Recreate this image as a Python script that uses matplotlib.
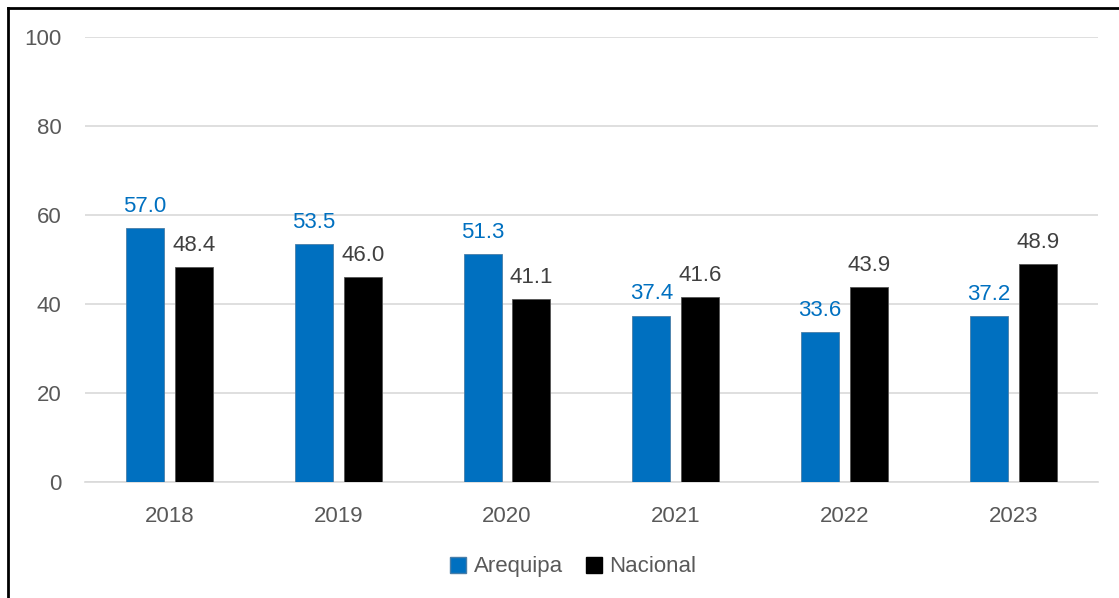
import matplotlib.pyplot as plt
import numpy as np
from matplotlib.lines import Line2D

years = ['2018', '2019', '2020', '2021', '2022', '2023']
arequipa = [57.0, 53.5, 51.3, 37.4, 33.6, 37.2]
nacional = [48.4, 46.0, 41.1, 41.6, 43.9, 48.9]

blue = '#0070C0'
plt.rcParams['font.family'] = ['Liberation Sans', 'DejaVu Sans']

fig = plt.figure(figsize=(11.19, 5.98), dpi=100)
ax = fig.add_axes([0.076, 0.194, 0.905, 0.744])

x = np.arange(len(years))
w = 0.225
b1 = ax.bar(x - 0.145, arequipa, w, color=blue, edgecolor='#4A7EA8', linewidth=0.6, zorder=3)
b2 = ax.bar(x + 0.145, nacional, w, color='black', edgecolor='#555555', linewidth=0.6, zorder=3)

for r, v in zip(b1, arequipa):
    ax.annotate(f'{v:.1f}', (r.get_x() + r.get_width() / 2, v), xytext=(0, 8),
                textcoords='offset points', ha='center', va='bottom', fontsize=16, color=blue)
for r, v in zip(b2, nacional):
    ax.annotate(f'{v:.1f}', (r.get_x() + r.get_width() / 2, v), xytext=(0, 8),
                textcoords='offset points', ha='center', va='bottom', fontsize=16, color='#404040')

ax.set_xlim(-0.5, len(years) - 0.5)
ax.set_ylim(0, 100)
ax.set_yticks(range(0, 101, 20))
ax.set_xticks(x)
ax.set_xticklabels(years)
ax.tick_params(axis='both', length=0, labelsize=16, labelcolor='#595959')
ax.tick_params(axis='y', pad=17)
ax.tick_params(axis='x', pad=17)
ax.grid(axis='y', color='#D9D9D9', linewidth=1.2, zorder=0)
for s in ['top', 'right', 'left']:
    ax.spines[s].set_visible(False)
ax.spines['bottom'].set_color('#D9D9D9')
ax.spines['bottom'].set_linewidth(1.2)

handles = [Line2D([], [], marker='s', linestyle='none', markersize=11, markerfacecolor=blue,
                  markeredgecolor='#4A7EA8'),
           Line2D([], [], marker='s', linestyle='none', markersize=11, markerfacecolor='black',
                  markeredgecolor='black')]
fig.legend(handles, ['Arequipa', 'Nacional'], loc='center', bbox_to_anchor=(0.512, 0.052),
           ncol=2, frameon=False, fontsize=16, labelcolor='#595959', handletextpad=0.3,
           columnspacing=1.0, handlelength=0.8)

# border on top and left like the source screenshot
fig.add_artist(Line2D([8 / 1119, 1], [1 - 8 / 598, 1 - 8 / 598], color='black', lw=2,
                      transform=fig.transFigure))
fig.add_artist(Line2D([8 / 1119, 8 / 1119], [0, 1 - 8 / 598], color='black', lw=2,
                      transform=fig.transFigure))

fig.savefig('out.png', dpi=100)
